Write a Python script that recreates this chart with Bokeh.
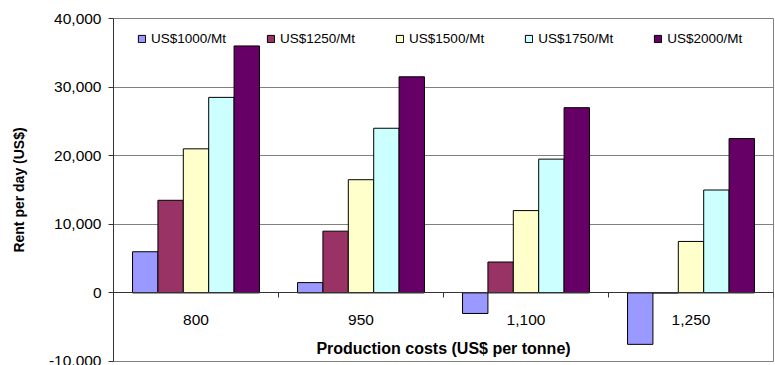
from bokeh.plotting import figure
from bokeh.models import Range1d, FixedTicker, NumeralTickFormatter, Legend, LegendItem, ColumnDataSource
from bokeh.embed import file_html
from bokeh.resources import INLINE

categories = ["800", "950", "1,100", "1,250"]
series = ["US$1000/Mt", "US$1250/Mt", "US$1500/Mt", "US$1750/Mt", "US$2000/Mt"]
s1000 = [6000, 1500, -3000, -7500]
s1250 = [13500, 9000, 4500, 0]
s1500 = [21000, 16500, 12000, 7500]
s1750 = [28500, 24000, 19500, 15000]
s2000 = [36000, 31500, 27000, 22500]
y_ticks = [-10000, 0, 10000, 20000, 30000, 40000]

values = [s1000, s1250, s1500, s1750, s2000]
colors = ["#9999FF", "#993366", "#FFFFCC", "#CCFFFF", "#660066"]
FONT = "Liberation Sans"

n = len(categories)
p = figure(width=775, height=365, output_backend="svg", toolbar_location=None,
           x_range=Range1d(0, n), y_range=Range1d(-10000, 40000),
           min_border_left=113, min_border_right=2, min_border_top=18, min_border_bottom=4)
p.background_fill_color = "white"
p.border_fill_color = "white"
p.outline_line_color = "#808080"
p.outline_line_width = 1

bw = 1.0 / 6.5
renderers = []
for k, (name, vals, col) in enumerate(zip(series, values, colors)):
    xs = [i + 0.5 + (k - 2) * bw for i in range(n)]
    src = ColumnDataSource(dict(x=xs, top=vals))
    r = p.vbar(x="x", top="top", bottom=0, width=bw, source=src,
               fill_color=col, line_color="black", line_width=1)
    renderers.append((name, r))

# grid
p.xgrid.visible = False
p.ygrid.ticker = FixedTicker(ticks=y_ticks)
p.ygrid.grid_line_color = "#808080"
p.ygrid.grid_line_width = 1

# y axis
ya = p.yaxis[0]
ya.ticker = FixedTicker(ticks=y_ticks)
ya.formatter = NumeralTickFormatter(format="0,0")
ya.major_tick_in = 0
ya.major_tick_out = 5
ya.minor_tick_out = 0
ya.minor_tick_in = 0
ya.axis_line_color = "#333333"
ya.major_tick_line_color = "#333333"
ya.major_label_text_font = FONT
ya.major_label_text_font_size = "15.5px"
ya.major_label_text_color = "black"
ya.major_label_standoff = 7
ya.axis_label = "Rent per day (US$)"
ya.axis_label_text_font = FONT
ya.axis_label_text_font_size = "14px"
ya.axis_label_text_font_style = "bold"
ya.axis_label_text_color = "black"
ya.axis_label_standoff = 19

# x axis at zero
xa = p.xaxis[0]
xa.fixed_location = 0
xa.ticker = FixedTicker(ticks=[i + 0.5 for i in range(n)], minor_ticks=list(range(n + 1)))
xa.major_label_overrides = {i + 0.5: c for i, c in enumerate(categories)}
xa.major_tick_in = 0
xa.major_tick_out = 0
xa.minor_tick_in = 0
xa.minor_tick_out = 5
xa.axis_line_color = "#333333"
xa.minor_tick_line_color = "#333333"
xa.major_label_text_font = FONT
xa.major_label_text_font_size = "15.5px"
xa.major_label_text_color = "black"
xa.major_label_standoff = 17
xa.axis_label = "Production costs (US$ per tonne)"
xa.axis_label_text_font = FONT
xa.axis_label_text_font_size = "16px"
xa.axis_label_text_font_style = "bold"
xa.axis_label_text_color = "black"
xa.axis_label_standoff = 12

legend = Legend(items=[LegendItem(label=nm, renderers=[r]) for nm, r in renderers],
                orientation="horizontal", location=(24, 315),
                glyph_width=9, glyph_height=9, label_standoff=5, spacing=40,
                padding=0, margin=0, label_height=13,
                label_text_font=FONT, label_text_font_size="13.5px", label_text_color="black",
                border_line_color=None, background_fill_alpha=0)
p.add_layout(legend)

open("out.html", "w").write(file_html(p, INLINE))
